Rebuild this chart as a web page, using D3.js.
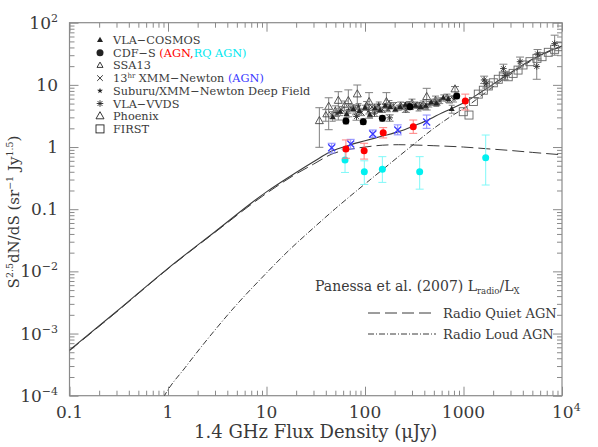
<!DOCTYPE html>
<html><head><meta charset="utf-8">
<script src="https://cdn.jsdelivr.net/npm/d3@7"></script>
<style>
html,body{margin:0;padding:0;background:#fff;}
svg text{font-family:"DejaVu Serif",serif;fill:#3a3a3a;}
</style></head><body>
<svg id="c" width="598" height="447"></svg>
<script>
// ---------- model curves: [flux (uJy), S^2.5 dN/dS] ----------
const totalCurve = [[0.1,5.4e-4],[0.3,2.26e-3],[1,0.0112],[3,0.0434],[10,0.19],[20,0.39],[30,0.58],[46,0.86],[70,1.08],[100,1.26],[150,1.5],[220,1.77],[300,2.12],[423,2.66],[500,3.05],[790,4.3],[1040,5.3],[1500,7.6],[2300,11.9],[3700,19.4],[5000,25.8],[7000,33.8],[10000,42.2]];
const rqCurve = [[0.1,5.3e-4],[0.3,2.22e-3],[1,0.011],[3,0.0425],[10,0.18],[20,0.37],[30,0.53],[46,0.77],[70,0.92],[100,1.0],[150,1.07],[220,1.09],[300,1.08],[500,1.05],[1000,1.0],[1700,0.94],[3000,0.88],[5000,0.82],[10000,0.75]];
const rlCurve = [[0.8,6.5e-5],[0.92,1e-4],[1.5,2.86e-4],[3,1.14e-3],[5,2.94e-3],[8.7,7.5e-3],[17,0.022],[30,0.05],[50,0.102],[100,0.255],[150,0.43],[286,0.99],[500,2.0],[790,3.3],[1040,4.3],[1500,6.6],[2300,11],[3700,18.5],[5000,25],[7000,33],[10000,41.5]];

// ---------- data: [flux, value, low, high] ----------
const vlaCosmos = [[47,3.0,2.6,3.4],[56,3.7,3.2,4.2],[65,3.4,3.0,3.8],[76,4.1,3.7,4.5],[88,3.8,3.4,4.2],[100,4.3,3.9,4.7],[112,3.3,3.0,3.6],[126,4.2,3.8,4.6],[142,3.9,3.6,4.2],[160,4.6,4.2,5.0],[180,4.4,4.1,4.7],[203,4.0,3.7,4.3],[228,4.4,4.1,4.7],[257,4.8,4.4,5.2],[290,4.3,4.0,4.6],[327,4.6,4.2,5.0],[368,4.4,4.0,4.8],[415,4.6,4.2,5.0],[470,5.2,4.7,5.7],[530,5.0,4.5,5.5],[624,6.2,5.5,6.9],[700,5.9,5.2,6.6],[759,4.1,3.5,4.7]];
const cdfs = [[64,2.62,2.35,2.9],[96,2.56,2.3,2.85],[150,2.9,2.6,3.2],[286,4.45,4.1,4.8],[853,6.6,6.0,7.2]];
const cdfsAgn = [[64,0.93,0.66,1.30],[98,0.87,0.64,1.15],[153,1.70,1.4,2.05],[309,2.12,1.66,2.72],[1043,5.5,3.94,7.1]];
const cdfsRqAgn = [[62.7,0.62,0.39,0.92],[98.4,0.40,0.25,0.60],[150,0.44,0.27,0.70],[359,0.40,0.21,0.70],[1680,0.67,0.245,1.56]];
const ssa13 = [[40,3.3,2.6,4.0],[50,3.9,3.2,4.6],[62,4.7,3.9,5.5],[80,4.0,3.3,4.7],[104,4.7,4.0,5.4],[135,4.3,3.7,4.9],[175,4.9,4.2,5.6],[230,4.7,4.1,5.3],[300,5.2,4.5,5.9],[390,4.9,4.3,5.5],[520,5.8,5.0,6.6],[680,6.3,5.5,7.1]];
const xmm13 = [[46,3.3,2.9,3.7],[58,4.0,3.5,4.5],[72,4.3,3.8,4.8],[92,3.6,3.2,4.0],[118,4.4,3.9,4.9],[150,4.0,3.6,4.4],[195,4.7,4.2,5.2],[250,4.4,4.0,4.8],[320,4.8,4.3,5.3],[410,4.5,4.0,5.0],[540,5.3,4.7,5.9],[720,5.8,5.1,6.5]];
const xmm13Agn = [[45.9,0.975,0.80,1.15],[71.6,1.12,0.93,1.33],[120,1.62,1.43,1.88],[215,1.88,1.57,2.27],[423,2.53,2.0,3.27]];
const subaru = [[52,3.5,3.1,3.9],[68,3.9,3.5,4.3],[86,4.5,4.0,5.0],[108,3.8,3.4,4.2],[138,4.8,4.3,5.3],[172,4.1,3.7,4.5],[220,4.3,3.9,4.7],[280,4.9,4.4,5.4],[350,4.2,3.8,4.6],[450,4.9,4.4,5.4],[580,5.6,5.0,6.2],[800,6.0,5.3,6.7]];
const vlaVvds = [[82,3.1,2.7,3.5],[125,3.5,3.1,3.9],[178,2.95,2.6,3.3],[260,4.0,3.6,4.4],[360,4.7,4.2,5.2],[520,5.3,4.7,5.9],[1620,12.0,10.5,13.8],[1700,10.4,8.9,12],[2540,18.3,15.5,21.5],[2650,14.2,12,16.5],[3750,23.6,19.5,28],[5650,31.5,26,37],[5540,19.8,12.3,26.8],[8420,46,30,63]];
const phoenix = [[34.4,2.62,0.99,4.29],[42.8,4.45,1.9,6.2],[53.6,5.56,2.72,7.76],[67.7,5.5,3.07,8.3],[83.5,7.05,4.74,9.95],[110,5.3,2.9,7.5],[165,5.3,3.9,7.5],[423,6.4,3.94,8.8],[820,8.5,6.4,9.4]];
const first = [[995,3.7],[1137,3.27],[1260,5.4],[1413,7.1],[1590,8.2],[1786,9.6],[2009,10.8],[2254,12.3],[2535,13.9],[2845,13.5],[3190,15.3],[3580,17.3],[4020,20.9],[4730,23.6],[5570,26.7],[6270,28.4],[7260,33.4],[8420,37.3],[9170,41.1]];

const xMajor = [0.1,1,10,100,1000,1e4];
const xMajorLabels = [["0.1",""],["1",""],["10",""],["100",""],["1000",""],["10","4"]];
const yMajor = [1e-4,1e-3,1e-2,0.1,1,10,100];
const yMajorLabels = [["10","\u22124"],["10","\u22123"],["10","\u22122"],["0.1",""],["1",""],["10",""],["10","2"]];
const legendNames = ["VLA\u2212COSMOS","CDF\u2212S","SSA13","13","Suburu/XMM\u2212Newton Deep Field","VLA\u2212VVDS","Phoenix","FIRST"];

// ---------- setup ----------
const svg = d3.select("#c");
const L=69.5, R=562, T=22.7, B=395.7;
const x = d3.scaleLog().domain([0.1,1e4]).range([L,R]);
const y = d3.scaleLog().domain([1e-4,100]).range([B,T]);
const frameCol = "#8a8a8a", lineCol = "#3a3a3a", errCol = "#808080";

svg.append("defs").append("clipPath").attr("id","clip")
  .append("rect").attr("x",L).attr("y",T).attr("width",R-L).attr("height",B-T);

function minors(lo,hi){const a=[];for(let e=lo;e<hi;e++){for(let k=2;k<=9;k++)a.push(k*Math.pow(10,e));}return a;}
const xMin = minors(-1,4), yMin = minors(-4,2);

function styleAxis(g){g.select(".domain").remove();g.selectAll("line").attr("stroke",frameCol);g.selectAll("text").remove();}
svg.append("g").attr("transform",`translate(0,${B})`).call(d3.axisBottom(x).tickValues(xMin).tickSize(-5).tickFormat("")).call(styleAxis);
svg.append("g").attr("transform",`translate(0,${B})`).call(d3.axisBottom(x).tickValues(xMajor).tickSize(-9).tickFormat("")).call(styleAxis);
svg.append("g").attr("transform",`translate(0,${T})`).call(d3.axisTop(x).tickValues(xMin).tickSize(-5).tickFormat("")).call(styleAxis);
svg.append("g").attr("transform",`translate(0,${T})`).call(d3.axisTop(x).tickValues(xMajor).tickSize(-9).tickFormat("")).call(styleAxis);
svg.append("g").attr("transform",`translate(${L},0)`).call(d3.axisLeft(y).tickValues(yMin).tickSize(-5).tickFormat("")).call(styleAxis);
svg.append("g").attr("transform",`translate(${L},0)`).call(d3.axisLeft(y).tickValues(yMajor).tickSize(-9).tickFormat("")).call(styleAxis);
svg.append("g").attr("transform",`translate(${R},0)`).call(d3.axisRight(y).tickValues(yMin).tickSize(-5).tickFormat("")).call(styleAxis);
svg.append("g").attr("transform",`translate(${R},0)`).call(d3.axisRight(y).tickValues(yMajor).tickSize(-9).tickFormat("")).call(styleAxis);
svg.append("rect").attr("x",L).attr("y",T).attr("width",R-L).attr("height",B-T)
  .attr("fill","none").attr("stroke",frameCol).attr("stroke-width",1.2);

// tick labels
xMajor.forEach((v,i)=>{
  const [m,s]=xMajorLabels[i];
  const t=svg.append("text").attr("x",x(v)).attr("y",418).attr("font-size",17).attr("text-anchor","middle");
  t.append("tspan").text(m);
  if(s){t.attr("text-anchor","start").attr("x",x(v)-10);t.append("tspan").attr("dy",-7).attr("font-size",11).text(s);}
});
yMajor.forEach((v,i)=>{
  const [m,s]=yMajorLabels[i];
  const t=svg.append("text").attr("x",58).attr("y",y(v)+6).attr("font-size",17).attr("text-anchor","end");
  t.append("tspan").text(m);
  if(s){t.append("tspan").attr("dy",-7).attr("font-size",11).text(s);}
});

// axis titles
svg.append("text").attr("x",(L+R)/2).attr("y",438).attr("text-anchor","middle").attr("font-size",18)
  .text("1.4 GHz Flux Density (\u03BCJy)");
const yt = svg.append("text").attr("transform","translate(19,212) rotate(-90)").attr("text-anchor","middle").attr("font-size",15);
yt.append("tspan").text("S");
yt.append("tspan").attr("dy",-6).attr("font-size",9.5).text("2.5");
yt.append("tspan").attr("dy",6).text("dN/dS (sr");
yt.append("tspan").attr("dy",-6).attr("font-size",9.5).text("\u22121");
yt.append("tspan").attr("dy",6).text(" Jy");
yt.append("tspan").attr("dy",-6).attr("font-size",9.5).text("1.5");
yt.append("tspan").attr("dy",6).text(")");

// ---------- curves ----------
const plot = svg.append("g").attr("clip-path","url(#clip)");
const line = d3.line().x(d=>x(d[0])).y(d=>y(d[1])).curve(d3.curveMonotoneX);
plot.append("path").datum(totalCurve).attr("d",line).attr("fill","none").attr("stroke",lineCol).attr("stroke-width",1.1);
plot.append("path").datum(rqCurve).attr("d",line).attr("fill","none").attr("stroke",lineCol).attr("stroke-width",1).attr("stroke-dasharray","12,5");
plot.append("path").datum(rlCurve).attr("d",line).attr("fill","none").attr("stroke",lineCol).attr("stroke-width",1).attr("stroke-dasharray","6,2,1,2");

// ---------- symbols ----------
function sym(g,type,cx,cy,col){
  const s = g.append("g").attr("transform",`translate(${cx},${cy})`);
  if(type==="tri") s.append("path").attr("d","M0,-3.3L3,2L-3,2Z").attr("fill",col);
  else if(type==="otri") s.append("path").attr("d","M0,-3.3L3,2L-3,2Z").attr("fill","none").attr("stroke",col).attr("stroke-width",0.9);
  else if(type==="otriL") s.append("path").attr("d","M0,-4.5L4,2.6L-4,2.6Z").attr("fill","none").attr("stroke",col).attr("stroke-width",0.9);
  else if(type==="circ") s.append("circle").attr("r",3.5).attr("fill",col);
  else if(type==="x") s.append("path").attr("d","M-2.8,-2.8L2.8,2.8M-2.8,2.8L2.8,-2.8").attr("stroke",col).attr("stroke-width",0.9);
  else if(type==="xb") s.append("path").attr("d","M-3.5,-3.5L3.5,3.5M-3.5,3.5L3.5,-3.5").attr("stroke",col).attr("stroke-width",1.3);
  else if(type==="star") s.append("path").attr("d",d3.symbol(d3.symbolStar,11)()).attr("fill",col);
  else if(type==="ast") s.append("path").attr("d","M-3.3,0L3.3,0M0,-3.3L0,3.3M-2.4,-2.4L2.4,2.4M-2.4,2.4L2.4,-2.4").attr("stroke",col).attr("stroke-width",0.9);
  else if(type==="sq") s.append("rect").attr("x",-4).attr("y",-4).attr("width",8).attr("height",8).attr("fill","none").attr("stroke",col).attr("stroke-width",0.9);
}
function err(g,d,col,cap){
  const cx=x(d[0]);
  g.append("path").attr("d",`M${cx},${y(d[2])}V${y(d[3])}M${cx-cap},${y(d[2])}H${cx+cap}M${cx-cap},${y(d[3])}H${cx+cap}`)
   .attr("stroke",col).attr("stroke-width",1).attr("fill","none");
}
function series(data,type,col,ecol,cap){
  const g = plot.append("g");
  data.forEach(d=>{ if(d.length>2) err(g,d,ecol,cap); });
  data.forEach(d=>sym(g,type,x(d[0]),y(d[1]),col));
}
series(phoenix,"otriL","#444",errCol,4);
series(ssa13,"otri","#444",errCol,3.5);
series(first,"sq","#666",errCol,3);
series(vlaVvds,"ast","#333",errCol,4);
series(subaru,"star","#333",errCol,3);
series(xmm13,"x","#333",errCol,3.5);
series(vlaCosmos,"tri","#222",errCol,3);
series(cdfs,"circ","#000",errCol,3);
series(cdfsRqAgn,"circ","#00f0f0","#80f8f8",4);
series(xmm13Agn,"xb","#3a3aff","#8888ff",4);
series(cdfsAgn,"circ","#ff0000","#ff8080",4);

// ---------- legend (top-left) ----------
const types = ["tri","circ","otri","x","star","ast","otriL","sq"];
const lg = svg.append("g");
types.forEach((t,i)=>{
  const cy = 40 + i*12.7;
  sym(lg,t,100,cy,"#222");
  const tx = lg.append("text").attr("x",113).attr("y",cy+4).attr("font-size",11.3);
  if(i===1){tx.append("tspan").text(legendNames[i]+" ");tx.append("tspan").style("fill","#ff0000").text("(AGN,");tx.append("tspan").style("fill","#00e8f0").text("RQ AGN)");}
  else if(i===3){tx.append("tspan").text("13");tx.append("tspan").attr("dy",-4).attr("font-size",7).text("hr");tx.append("tspan").attr("dy",4).text(" XMM\u2212Newton ");tx.append("tspan").style("fill","#3a3aff").text("(AGN)");}
  else tx.text(legendNames[i]);
});

// ---------- model annotation (bottom-right) ----------
const pt = svg.append("text").attr("x",315).attr("y",291).attr("font-size",14);
pt.append("tspan").text("Panessa et al. (2007) L");
pt.append("tspan").attr("dy",3).attr("font-size",8.5).text("radio");
pt.append("tspan").attr("dy",-3).text("/L");
pt.append("tspan").attr("dy",3).attr("font-size",8.5).text("X");
const modelLeg = [["Radio Quiet AGN","12,5"],["Radio Loud AGN","6,2,1,2"]];
modelLeg.forEach((m,i)=>{
  const cy = 313 + i*21;
  svg.append("line").attr("x1",368).attr("x2",436).attr("y1",cy).attr("y2",cy).attr("stroke",lineCol).attr("stroke-dasharray",m[1]);
  svg.append("text").attr("x",443).attr("y",cy+4.5).attr("font-size",13).text(m[0]);
});
</script>
</body></html>
